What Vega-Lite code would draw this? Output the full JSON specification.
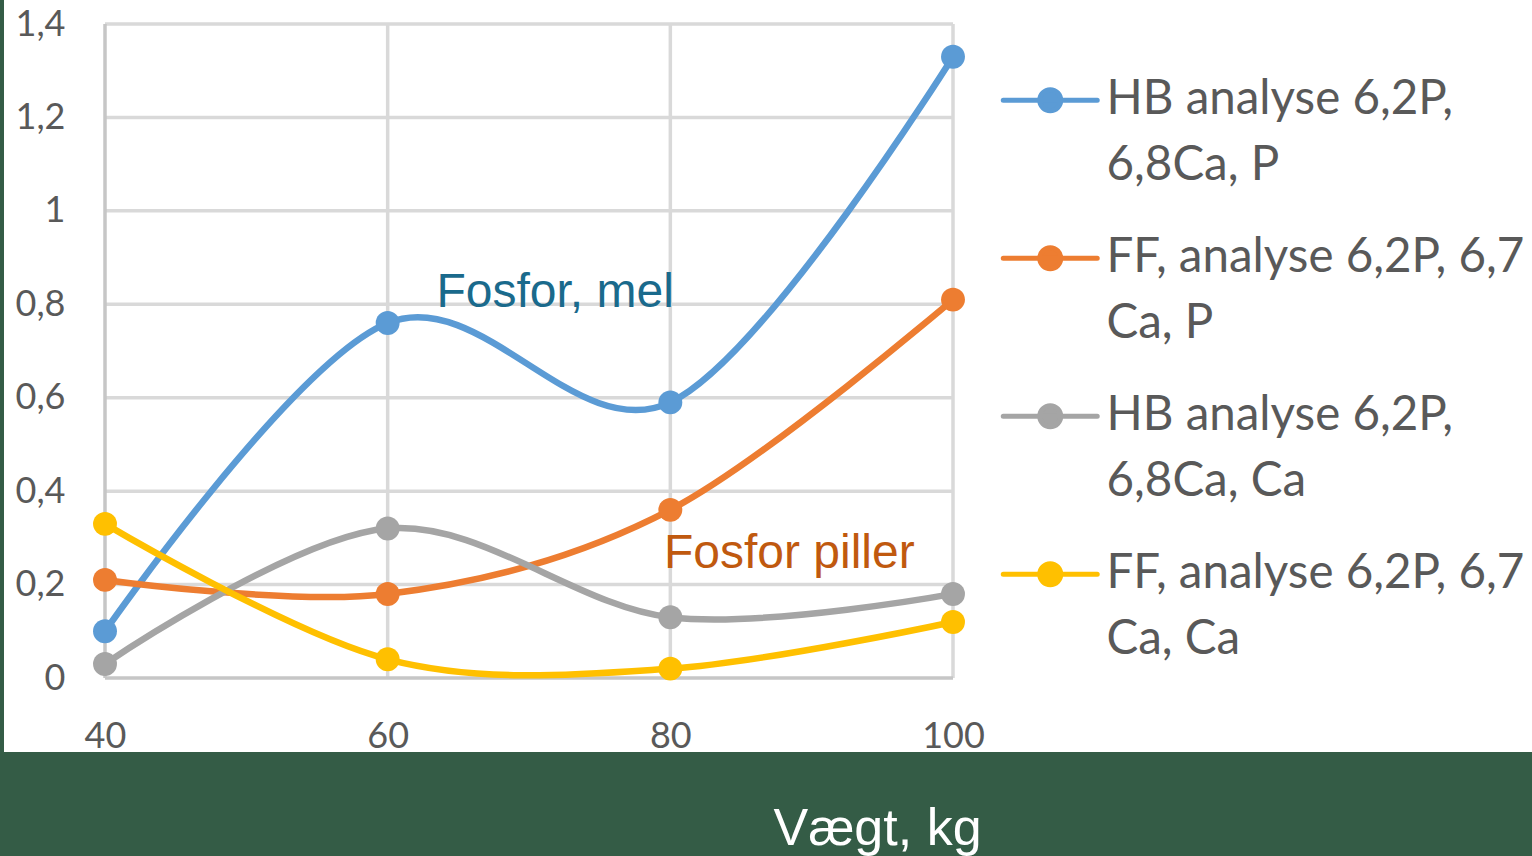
{
  "$schema": "https://vega.github.io/schema/vega-lite/v6.json",
  "width": 1528,
  "height": 752,
  "autosize": {"type": "none"},
  "padding": {"left": 4, "top": 0, "right": 0, "bottom": 104},
  "background": "#345C46",
  "config": {
    "view": {"stroke": null, "fill": "#FFFFFF"}
  },
  "datasets": {
    "series": [
      {"series": "HB analyse 6,2P, 6,8Ca, P", "kg": 40, "v": 0.10},
      {"series": "HB analyse 6,2P, 6,8Ca, P", "kg": 60, "v": 0.76},
      {"series": "HB analyse 6,2P, 6,8Ca, P", "kg": 80, "v": 0.59},
      {"series": "HB analyse 6,2P, 6,8Ca, P", "kg": 100, "v": 1.33},
      {"series": "FF, analyse 6,2P, 6,7 Ca, P", "kg": 40, "v": 0.21},
      {"series": "FF, analyse 6,2P, 6,7 Ca, P", "kg": 60, "v": 0.18},
      {"series": "FF, analyse 6,2P, 6,7 Ca, P", "kg": 80, "v": 0.36},
      {"series": "FF, analyse 6,2P, 6,7 Ca, P", "kg": 100, "v": 0.81},
      {"series": "HB analyse 6,2P, 6,8Ca, Ca", "kg": 40, "v": 0.03},
      {"series": "HB analyse 6,2P, 6,8Ca, Ca", "kg": 60, "v": 0.32},
      {"series": "HB analyse 6,2P, 6,8Ca, Ca", "kg": 80, "v": 0.13},
      {"series": "HB analyse 6,2P, 6,8Ca, Ca", "kg": 100, "v": 0.18},
      {"series": "FF, analyse 6,2P, 6,7 Ca, Ca", "kg": 40, "v": 0.33},
      {"series": "FF, analyse 6,2P, 6,7 Ca, Ca", "kg": 60, "v": 0.04},
      {"series": "FF, analyse 6,2P, 6,7 Ca, Ca", "kg": 80, "v": 0.02},
      {"series": "FF, analyse 6,2P, 6,7 Ca, Ca", "kg": 100, "v": 0.12}
    ],
    "hgrid": [{"y": 0.2}, {"y": 0.4}, {"y": 0.6}, {"y": 0.8}, {"y": 1.0}, {"y": 1.2}, {"y": 1.4}],
    "vgrid": [{"x": 60}, {"x": 80}, {"x": 100}],
    "notes": [
      {"label": "Fosfor, mel", "x": 63.45, "y": 0.794, "c": "#1A6A8C"},
      {"label": "Fosfor piller", "x": 79.55, "y": 0.2355, "c": "#C0590F"}
    ]
  },
  "layer": [
    {
      "data": {"name": "hgrid"},
      "mark": {"type": "rule", "stroke": "#D9D9D9", "strokeWidth": 3.5},
      "encoding": {
        "x": {"datum": 40, "type": "quantitative", "scale": {"domain": [32.854, 140.967], "nice": false, "zero": false}},
        "x2": {"datum": 100},
        "y": {"field": "y", "type": "quantitative", "scale": {"domain": [-0.1584, 1.4514], "nice": false, "zero": false}}
      }
    },
    {
      "data": {"name": "vgrid"},
      "mark": {"type": "rule", "stroke": "#D9D9D9", "strokeWidth": 3.5},
      "encoding": {
        "x": {"field": "x", "type": "quantitative", "scale": {"domain": [32.854, 140.967], "nice": false, "zero": false}},
        "y": {"datum": 0, "type": "quantitative", "scale": {"domain": [-0.1584, 1.4514], "nice": false, "zero": false}},
        "y2": {"datum": 1.4}
      }
    },
    {
      "data": {"values": [{"a": 1}]},
      "mark": {"type": "rule", "stroke": "#C6C6C6", "strokeWidth": 3.5},
      "encoding": {
        "x": {"datum": 40, "type": "quantitative", "scale": {"domain": [32.854, 140.967], "nice": false, "zero": false}},
        "y": {"datum": 0, "type": "quantitative", "scale": {"domain": [-0.1584, 1.4514], "nice": false, "zero": false}},
        "y2": {"datum": 1.4}
      }
    },
    {
      "data": {"values": [{"a": 1}]},
      "mark": {"type": "rule", "stroke": "#C6C6C6", "strokeWidth": 3.5},
      "encoding": {
        "x": {"datum": 40, "type": "quantitative", "scale": {"domain": [32.854, 140.967], "nice": false, "zero": false}},
        "x2": {"datum": 100},
        "y": {"datum": 0, "type": "quantitative", "scale": {"domain": [-0.1584, 1.4514], "nice": false, "zero": false}}
      }
    },
    {
      "data": {"name": "series"},
      "mark": {"type": "line", "interpolate": "cardinal", "strokeWidth": 6.5, "strokeCap": "round"},
      "encoding": {
        "x": {
          "field": "kg", "type": "quantitative",
          "scale": {"domain": [32.854, 140.967], "nice": false, "zero": false},
          "axis": {
            "values": [40, 60, 80, 100], "grid": false, "domain": false, "ticks": false, "tickSize": 0,
            "offset": -32.5, "labelPadding": 0, "labelBaseline": "top",
            "labelFont": "Lato", "labelFontSize": 36, "labelColor": "#595959",
            "title": "Vægt, kg", "titleFont": "Liberation Sans", "titleFontSize": 52, "titleFontWeight": "normal",
            "titleColor": "#FFFFFF", "titleX": 873, "titleY": 124.5, "titleAlign": "center", "titleBaseline": "alphabetic"
          }
        },
        "y": {
          "field": "v", "type": "quantitative",
          "scale": {"domain": [-0.1584, 1.4514], "nice": false, "zero": false},
          "axis": {
            "values": [0, 0.2, 0.4, 0.6, 0.8, 1.0, 1.2, 1.4], "grid": false, "domain": false, "ticks": false, "tickSize": 0,
            "offset": -69, "labelPadding": 8, "labelBaseline": "middle",
            "labelExpr": "replace(format(datum.value, '.1~f'), '.', ',')",
            "labelFont": "Lato", "labelFontSize": 36, "labelColor": "#595959", "title": null
          }
        },
        "color": {
          "field": "series", "type": "nominal",
          "scale": {
            "domain": ["HB analyse 6,2P, 6,8Ca, P", "FF, analyse 6,2P, 6,7 Ca, P", "HB analyse 6,2P, 6,8Ca, Ca", "FF, analyse 6,2P, 6,7 Ca, Ca"],
            "range": ["#5B9BD5", "#ED7D31", "#A5A5A5", "#FFC000"]
          },
          "legend": {
            "orient": "none", "legendX": 1022.5, "legendY": 76.5, "title": null, "padding": 0,
            "symbolType": "M-4.476,0L4.476,0M1,0A1,1,0,1,1,-1,0A1,1,0,1,1,1,0Z",
            "symbolSize": 441, "symbolStrokeWidth": 5, "labelOffset": 32.5,
            "labelFont": "Lato", "labelFontSize": 47.5, "labelColor": "#595959", "labelLimit": 1000,
            "rowPadding": 43,
            "labelExpr": "indexof(datum.label, 'HB') == 0 ? [slice(datum.label, 0, 16), slice(datum.label, 17)] : [slice(datum.label, 0, 21), slice(datum.label, 22)]",
            "encode": {
              "symbols": {"update": {"fill": {"scale": "color", "field": "value"}, "stroke": {"scale": "color", "field": "value"}, "strokeWidth": {"value": 5}, "strokeCap": {"value": "round"}, "opacity": {"value": 1}}},
              "labels": {"update": {"lineHeight": {"value": 66}}}
            }
          }
        }
      }
    },
    {
      "data": {"name": "series"},
      "mark": {"type": "point", "filled": true, "size": 572, "opacity": 1},
      "encoding": {
        "x": {"field": "kg", "type": "quantitative", "scale": {"domain": [32.854, 140.967], "nice": false, "zero": false}},
        "y": {"field": "v", "type": "quantitative", "scale": {"domain": [-0.1584, 1.4514], "nice": false, "zero": false}},
        "color": {"field": "series", "type": "nominal"}
      }
    },
    {
      "data": {"name": "notes"},
      "mark": {"type": "text", "font": "Liberation Sans", "fontSize": 48, "align": "left", "baseline": "alphabetic"},
      "encoding": {
        "x": {"field": "x", "type": "quantitative", "scale": {"domain": [32.854, 140.967], "nice": false, "zero": false}},
        "y": {"field": "y", "type": "quantitative", "scale": {"domain": [-0.1584, 1.4514], "nice": false, "zero": false}},
        "text": {"field": "label"},
        "color": {"field": "c", "type": "nominal", "scale": null}
      }
    }
  ]
}
